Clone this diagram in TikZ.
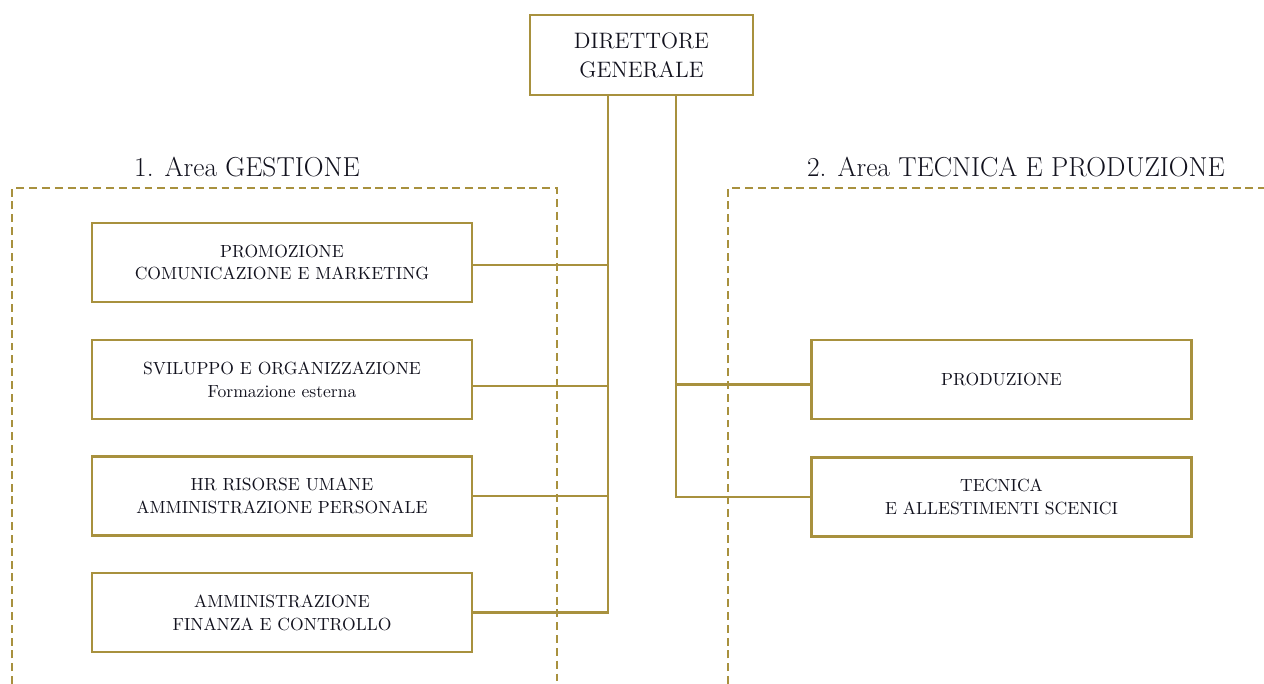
\documentclass[tikz,border=0pt]{standalone}
\definecolor{gold}{RGB}{168,145,62}
\definecolor{ink}{RGB}{18,18,30}
\begin{document}
\begin{tikzpicture}[
    unit/.style={draw=gold, line width=1.5pt, text=ink, minimum width=7.6cm, minimum height=1.58cm, inner sep=0pt, align=center, font=\fontsize{10}{13}\selectfont},
    head/.style={unit, minimum width=4.46cm, minimum height=1.6cm, font=\fontsize{12.7}{16.5}\selectfont},
    area/.style={draw=gold, line width=1.5pt, dash pattern=on 4.5pt off 2.8pt},
    link/.style={draw=gold, line width=1.5pt},
    areatitle/.style={text=ink, font=\fontsize{15.6}{18}\selectfont}
]
    \useasboundingbox (0,0) rectangle (25.28,13.68);

    \draw[area] (0.24,0) |- (11.14,9.92) -- (11.14,0);
    \draw[area] (14.56,0) |- (25.30,9.92);

    \node[areatitle] (gestione) at (4.94,10.34) {1. Area GESTIONE};
    \node[areatitle] (tecprod) at (20.32,10.34) {2. Area TECNICA E PRODUZIONE};

    \node[head] (dg) at (12.83,12.58) {DIRETTORE\\GENERALE};

    \node[unit] (promozione) at (5.64,8.43) {PROMOZIONE\\COMUNICAZIONE E MARKETING};
    \node[unit] (sviluppo) at (5.64,6.09) {SVILUPPO E ORGANIZZAZIONE\\Formazione esterna};
    \node[unit] (risorse) at (5.64,3.76) {HR RISORSE UMANE\\AMMINISTRAZIONE PERSONALE};
    \node[unit] (finanza) at (5.64,1.43) {AMMINISTRAZIONE\\FINANZA E CONTROLLO};

    \node[unit] (produzione) at (20.03,6.09) {PRODUZIONE};
    \node[unit] (tecnica) at (20.03,3.74) {TECNICA\\E ALLESTIMENTI SCENICI};

    \coordinate (trunkL) at ([xshift=-0.67cm]dg.south);
    \coordinate (trunkR) at ([xshift=0.69cm]dg.south);

    \draw[link] (trunkL) |- (finanza.east);
    \draw[link] ([yshift=-0.05cm]promozione.east) -- ([yshift=-0.05cm]promozione.east -| trunkL);
    \draw[link] ([yshift=-0.13cm]sviluppo.east) -- ([yshift=-0.13cm]sviluppo.east -| trunkL);
    \draw[link] (risorse.east) -- (risorse.east -| trunkL);

    \draw[link] (trunkR) |- (tecnica.west);
    \draw[link] ([yshift=-0.1cm]produzione.west) -- ([yshift=-0.1cm]produzione.west -| trunkR);
\end{tikzpicture}
\end{document}
